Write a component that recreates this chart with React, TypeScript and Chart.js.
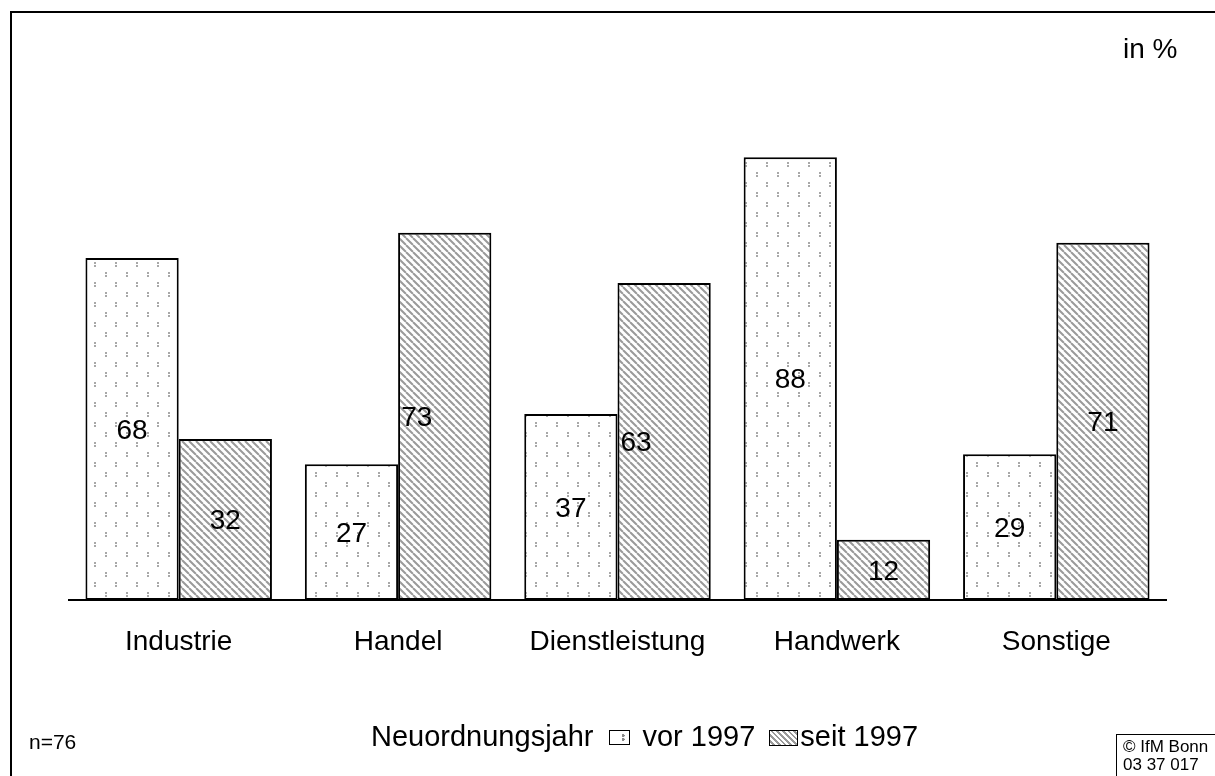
import React, { useEffect, useRef } from 'react';
import { Chart, registerables } from 'chart.js';

Chart.register(...registerables);

// ---- data ----
const categories: string[] = ['Industrie', 'Handel', 'Dienstleistung', 'Handwerk', 'Sonstige'];
const vor1997: number[] = [68, 27, 37, 88, 29];
const seit1997: number[] = [32, 73, 63, 12, 71];
const seriesLabels: string[] = ['vor 1997', 'seit 1997'];
const legendTitle = 'Neuordnungsjahr';
const unitLabel = 'in %';
const sampleLabel = 'n=76';
const sourceLines: string[] = ['© IfM Bonn', '03 37 017'];
const yMax = 100;

// label nudges (style only): seit 1997 labels for Handel & Dienstleistung sit left of centre
const LABEL_NUDGE: Record<string, number> = { '1-1': -28, '1-2': -28 };

const FONT = "'Liberation Sans', Arial, Helvetica, sans-serif";

function dotPattern(): CanvasPattern | string {
  const c = document.createElement('canvas');
  c.width = 21;
  c.height = 20;
  const g = c.getContext('2d');
  if (!g) return '#fff';
  g.fillStyle = '#ffffff';
  g.fillRect(0, 0, 21, 20);
  g.fillStyle = '#a8a8a8';
  const dot = (x: number, y: number) => {
    g.fillRect(x, y, 2, 2);
    g.fillRect(x, y + 3, 2, 2);
  };
  dot(10, 2);
  dot(0, 12);
  return g.createPattern(c, 'repeat') || '#fff';
}

function hatchPattern(): CanvasPattern | string {
  const s = 7;
  const c = document.createElement('canvas');
  c.width = s;
  c.height = s;
  const g = c.getContext('2d');
  if (!g) return '#ccc';
  g.fillStyle = '#ffffff';
  g.fillRect(0, 0, s, s);
  g.strokeStyle = '#9a9a9a';
  g.lineWidth = 2;
  g.beginPath();
  for (const k of [-1, 0, 1]) {
    g.moveTo(k * s, 0);
    g.lineTo(k * s + s, s);
  }
  g.stroke();
  return g.createPattern(c, 'repeat') || '#ccc';
}

const valueLabels = {
  id: 'valueLabels',
  afterDatasetsDraw(chart: any) {
    const ctx = chart.ctx;
    ctx.save();
    ctx.font = `28px ${FONT}`;
    ctx.fillStyle = '#000';
    ctx.textAlign = 'center';
    ctx.textBaseline = 'middle';
    chart.data.datasets.forEach((ds: any, di: number) => {
      const meta = chart.getDatasetMeta(di);
      meta.data.forEach((el: any, i: number) => {
        const nudge = LABEL_NUDGE[`${di}-${i}`] || 0;
        ctx.fillText(String(ds.data[i]), el.x + nudge, (el.y + el.base) / 2 + 2);
      });
    });
    ctx.restore();
  },
};

export default function App() {
  const canvasRef = useRef<HTMLCanvasElement | null>(null);

  useEffect(() => {
    if (!canvasRef.current) return;
    const chart = new Chart(canvasRef.current, {
      type: 'bar',
      data: {
        labels: categories,
        datasets: [
          {
            label: seriesLabels[0],
            data: vor1997,
            backgroundColor: dotPattern() as any,
            borderColor: '#000',
            borderWidth: 2,
            borderSkipped: false,
            categoryPercentage: 0.85,
            barPercentage: 1,
          },
          {
            label: seriesLabels[1],
            data: seit1997,
            backgroundColor: hatchPattern() as any,
            borderColor: '#000',
            borderWidth: 2,
            borderSkipped: false,
            categoryPercentage: 0.85,
            barPercentage: 1,
          },
        ],
      },
      options: {
        responsive: false,
        animation: false,
        devicePixelRatio: 1,
        layout: { padding: { left: 69, right: 49, top: 97, bottom: 0 } },
        plugins: {
          legend: { display: false },
          tooltip: { enabled: false },
          title: { display: false },
        },
        scales: {
          x: {
            grid: { display: false },
            border: { display: true, color: '#000', width: 2 },
            ticks: {
              color: '#000',
              font: { family: FONT, size: 28 },
              padding: 17,
              maxRotation: 0,
              autoSkip: false,
            },
            afterFit: (s: any) => {
              s.height = 176;
            },
          },
          y: {
            display: false,
            min: 0,
            max: yMax,
          },
        },
      },
      plugins: [valueLabels],
    });
    return () => chart.destroy();
  }, []);

  const textBase: React.CSSProperties = {
    position: 'absolute',
    fontFamily: FONT,
    color: '#000',
    whiteSpace: 'nowrap',
  };

  return (
    <div
      style={{
        position: 'fixed',
        left: 0,
        top: 0,
        width: 1215,
        height: 776,
        background: '#fff',
        overflow: 'hidden',
      }}
    >
      <canvas
        ref={canvasRef}
        width={1215}
        height={776}
        style={{ position: 'absolute', left: 0, top: 0, width: 1215, height: 776, display: 'block' }}
      />
      <div
        style={{
          position: 'absolute',
          left: 10,
          top: 11,
          width: 1400,
          height: 1000,
          borderTop: '2px solid #000',
          borderLeft: '2px solid #000',
          pointerEvents: 'none',
        }}
      />
      <div style={{ ...textBase, left: 1123, top: 35, fontSize: 28, lineHeight: '28px' }}>{unitLabel}</div>
      <div style={{ ...textBase, left: 29, top: 731, fontSize: 21, lineHeight: '21px' }}>{sampleLabel}</div>
      <div
        style={{
          ...textBase,
          left: 371,
          top: 722,
          fontSize: 29,
          lineHeight: '29px',
          display: 'flex',
          alignItems: 'center',
        }}
      >
        <span>{legendTitle}</span>
        <span
          style={{
            display: 'inline-block',
            width: 19,
            height: 13,
            border: '1.5px solid #000',
            marginLeft: 16,
            marginRight: 12,
            marginTop: 2,
            background:
              'radial-gradient(circle at 70% 35%, #888 0 1.3px, transparent 1.6px), radial-gradient(circle at 70% 65%, #888 0 1.3px, transparent 1.6px), #fff',
          }}
        />
        <span>{seriesLabels[0]}</span>
        <span
          style={{
            display: 'inline-block',
            width: 27,
            height: 14,
            border: '1.5px solid #000',
            marginLeft: 14,
            marginRight: 2,
            marginTop: 2,
            background: 'repeating-linear-gradient(45deg, #fff 0 2px, #999 2px 4px)',
          }}
        />
        <span>{seriesLabels[1]}</span>
      </div>
      <div
        style={{
          position: 'absolute',
          left: 1116,
          top: 734,
          width: 200,
          height: 100,
          borderTop: '1px solid #000',
          borderLeft: '1px solid #000',
          paddingLeft: 6,
          paddingTop: 3,
          fontFamily: FONT,
          fontSize: 17,
          lineHeight: '18px',
          color: '#000',
          whiteSpace: 'nowrap',
        }}
      >
        {sourceLines.map((l) => (
          <div key={l}>{l}</div>
        ))}
      </div>
    </div>
  );
}
